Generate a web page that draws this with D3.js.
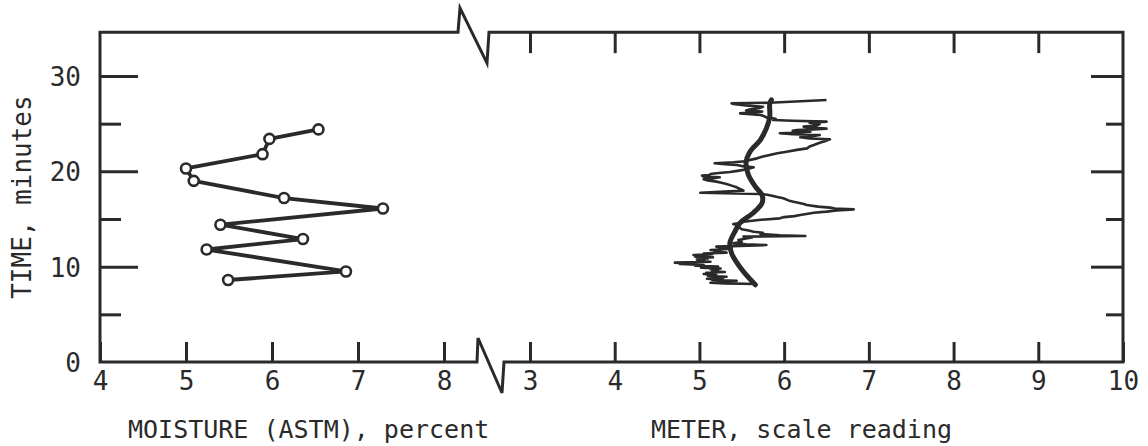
<!DOCTYPE html>
<html>
<head>
<meta charset="utf-8">
<script src="https://cdn.jsdelivr.net/npm/d3@7"></script>
<style>
  body { margin: 0; background: #fff; }
  text { font-family: "DejaVu Sans Mono", "Liberation Mono", monospace; fill: #2a2a2a; }
</style>
</head>
<body>
<div id="chart"></div>
<script>
// ---- data ----
// left panel: moisture (ASTM) percent vs time
const moisture = [6.54, 5.97, 5.89, 5.00, 5.09, 6.14, 7.29, 5.40, 6.36, 5.24, 6.86, 5.49];
const moistureTime = [24.4, 23.4, 21.8, 20.3, 19.0, 17.2, 16.1, 14.4, 12.9, 11.8, 9.5, 8.6];

// right panel: meter recording (raw trace)
const meterRawTime = [8.18, 8.25, 8.32, 8.40, 8.46, 8.53, 8.60, 8.67, 8.74, 8.82, 8.88, 8.95, 9.05, 9.12,
  9.23, 9.30, 9.36, 9.44, 9.52, 9.60, 9.72, 9.80, 9.88, 9.95, 10.0, 10.10, 10.18, 10.28, 10.35, 10.42,
  10.52, 10.60, 10.68, 10.77, 10.85, 10.90, 10.98, 11.05, 11.12, 11.22, 11.30, 11.38, 11.47, 11.55, 11.62,
  11.75, 11.82, 11.92, 12.00, 12.10, 12.27, 12.35, 12.45, 12.60, 12.80, 12.95, 13.05, 13.15, 13.22, 13.30,
  13.43, 13.55, 13.67, 13.80, 13.92, 14.05, 14.20, 14.32, 14.47, 14.60, 14.72, 14.90, 15.07, 15.20, 15.30,
  15.42, 15.55, 15.65, 15.77, 15.90, 16.01, 16.10, 16.19, 16.30, 16.47, 16.60, 16.82, 16.95, 17.17, 17.30,
  17.41, 17.55, 17.62, 17.76, 17.90, 17.97, 18.15, 18.32, 18.50, 18.67, 18.80, 18.92, 19.05, 19.16, 19.25,
  19.37, 19.45, 19.55, 19.62, 19.72, 19.80, 19.93, 20.05, 20.21, 20.42, 20.55, 20.66, 20.75, 20.84, 20.95,
  21.05, 21.20, 21.36, 21.55, 21.71, 21.90, 22.06, 22.25, 22.41, 22.60, 22.76, 23.00, 23.22, 23.36, 23.45,
  23.57, 23.70, 23.81, 23.90, 23.99, 24.08, 24.16, 24.25, 24.34, 24.40, 24.48, 24.58, 24.69, 24.80, 24.97,
  25.10, 25.21, 25.30, 25.38, 25.50, 25.66, 25.80, 25.91, 26.00, 26.08, 26.18, 26.26, 26.38, 26.50, 26.62,
  26.78, 26.90, 27.06, 27.13, 27.20, 27.48];
const meterRaw = [5.66, 5.30, 5.13, 5.35, 5.20, 5.44, 5.15, 5.28, 5.09, 5.25, 5.12, 5.32, 5.10, 5.20,
  5.05, 5.18, 5.08, 5.30, 5.15, 5.22, 5.13, 5.25, 5.02, 5.15, 5.22, 4.95, 5.05, 4.77, 4.85, 4.71,
  5.13, 4.98, 5.05, 4.97, 5.10, 5.00, 5.16, 4.95, 5.05, 4.93, 5.15, 5.05, 5.32, 5.18, 5.25,
  5.13, 5.30, 5.38, 5.25, 5.20, 5.79, 5.55, 5.40, 5.50, 5.46, 5.55, 5.62, 5.52, 6.25, 5.95,
  5.72, 5.75, 5.64, 5.58, 5.50, 5.48, 5.44, 5.46, 5.40, 5.50, 5.52, 5.70, 5.95, 6.00, 6.12,
  6.19, 6.28, 6.35, 6.50, 6.62, 6.82, 6.60, 6.54, 6.40, 6.27, 6.22, 6.11, 6.05, 5.99, 5.92,
  5.87, 5.80, 5.72, 5.01, 5.35, 5.52, 5.48, 5.44, 5.38, 5.32, 5.26, 5.20, 5.10, 5.05, 5.15,
  5.24, 5.05, 5.03, 5.12, 5.13, 5.20, 5.36, 5.45, 5.56, 5.64, 5.50, 5.44, 5.30, 5.18, 5.40,
  5.54, 5.60, 5.68, 5.75, 5.83, 5.92, 6.03, 6.15, 6.27, 6.30, 6.35, 6.42, 6.50, 6.54, 6.30,
  6.19, 6.35, 6.42, 6.10, 5.95, 6.20, 6.31, 6.10, 6.15, 6.35, 6.50, 6.30, 6.23, 6.38, 6.42,
  6.30, 6.50, 6.10, 5.87, 5.90, 5.79, 5.76, 5.72, 5.60, 5.48, 5.62, 5.74, 5.55, 5.60, 5.70,
  5.75, 5.55, 5.40, 5.38, 5.83, 6.50];

// right panel: smoothed curve through the recording
const meterSmooth = [5.66, 5.50, 5.38, 5.36, 5.42, 5.48, 5.63, 5.74, 5.74, 5.66, 5.58, 5.55, 5.60, 5.72, 5.79, 5.83, 5.83, 5.85];
const meterSmoothTime = [8.1, 9.7, 11.4, 12.5, 13.7, 14.6, 15.6, 16.7, 17.5, 18.4, 19.6, 20.9, 22.1, 23.3, 24.5, 25.7, 27.1, 27.5];

// axis ticks
const moistureTicks = [4, 5, 6, 7, 8];
const meterTicks = [3, 4, 5, 6, 7, 8, 9, 10];
const timeTicks = [0, 5, 10, 15, 20, 25, 30];
const timeLabels = [0, 10, 20, 30];

// ---- layout ----
const W = 1148, H = 446;
const ink = "#2a2a2a";

const svg = d3.select("#chart").append("svg")
  .attr("width", W).attr("height", H);
svg.append("rect").attr("width", W).attr("height", H).attr("fill", "#fff");

const xL = d3.scaleLinear().domain([4, 8]).range([100, 444]);
const xR = d3.scaleLinear().domain([3, 10]).range([530, 1123]);
const y = d3.scaleLinear().domain([0, 30]).range([362, 76]);
const yTop = y(34.6);
const yBot = y(0);

// frame with axis breaks
const frame = d3.path();
frame.moveTo(xL(4), yTop);
frame.lineTo(458, yTop);
frame.lineTo(460, yTop - 24);
frame.lineTo(487, yTop + 31);
frame.lineTo(489, yTop);
frame.lineTo(xR(10), yTop);
frame.lineTo(xR(10), yBot);
frame.lineTo(504, yBot);
frame.lineTo(502, yBot + 31);
frame.lineTo(478, yBot - 24);
frame.lineTo(477, yBot);
frame.lineTo(xL(4), yBot);
frame.closePath();
svg.append("path").attr("d", frame.toString())
  .attr("fill", "none").attr("stroke", ink).attr("stroke-width", 3)
  .attr("stroke-linejoin", "miter");

function styleAxis(g) {
  g.select(".domain").remove();
  g.selectAll(".tick line").attr("stroke", ink).attr("stroke-width", 3);
  g.selectAll(".tick text").attr("fill", ink).attr("font-size", 26)
    .attr("font-family", "DejaVu Sans Mono, monospace");
}

const fmt = d3.format("d");

// bottom axes (ticks pointing inward)
svg.append("g").attr("transform", `translate(0,${yBot})`)
  .call(d3.axisBottom(xL).tickValues(moistureTicks).tickSizeInner(-20).tickSizeOuter(0).tickPadding(10).tickFormat(fmt))
  .call(styleAxis);
svg.append("g").attr("transform", `translate(0,${yBot})`)
  .call(d3.axisBottom(xR).tickValues(meterTicks).tickSizeInner(-20).tickSizeOuter(0).tickPadding(10).tickFormat(fmt))
  .call(styleAxis);

// top axis of the meter panel, ticks only
svg.append("g").attr("transform", `translate(0,${yTop})`)
  .call(d3.axisTop(xR).tickValues(meterTicks.slice(0, -1)).tickSizeInner(-21).tickSizeOuter(0).tickFormat(""))
  .call(styleAxis);

// left time axis
const gyL = svg.append("g").attr("transform", `translate(${xL(4)},0)`)
  .call(d3.axisLeft(y).tickValues(timeTicks).tickSizeOuter(0).tickPadding(13)
    .tickFormat(d => timeLabels.includes(d) ? d : ""))
  .call(styleAxis);
gyL.selectAll(".tick line").attr("x2", d => d === 0 ? 0 : (timeLabels.includes(d) ? 38 : 21));
gyL.selectAll(".tick text").attr("dy", "0.36em");

// right time axis
const gyR = svg.append("g").attr("transform", `translate(${xR(10)},0)`)
  .call(d3.axisRight(y).tickValues(timeTicks.slice(1)).tickSizeOuter(0).tickFormat(""))
  .call(styleAxis);
gyR.selectAll(".tick line").attr("x2", d => timeLabels.includes(d) ? -32 : -17);

// ---- left panel: moisture ----
const moistPts = moisture.map((v, i) => [v, moistureTime[i]]);
svg.append("path").datum(moistPts)
  .attr("fill", "none").attr("stroke", ink).attr("stroke-width", 3.8)
  .attr("stroke-linejoin", "round")
  .attr("d", d3.line().x(d => xL(d[0])).y(d => y(d[1])));
svg.selectAll("circle.m").data(moistPts).enter().append("circle")
  .attr("class", "m")
  .attr("cx", d => xL(d[0])).attr("cy", d => y(d[1])).attr("r", 5)
  .attr("fill", "#fff").attr("stroke", ink).attr("stroke-width", 2.6);

// ---- right panel: meter ----
const rawPts = meterRaw.map((v, i) => [v, meterRawTime[i]]);
svg.append("path").datum(rawPts)
  .attr("fill", "none").attr("stroke", ink).attr("stroke-width", 2.6)
  .attr("stroke-linejoin", "round")
  .attr("d", d3.line().x(d => xR(d[0])).y(d => y(d[1])));

const smoothPts = meterSmooth.map((v, i) => [v, meterSmoothTime[i]]);
svg.append("path").datum(smoothPts)
  .attr("fill", "none").attr("stroke", ink).attr("stroke-width", 5)
  .attr("stroke-linecap", "round")
  .attr("d", d3.line().curve(d3.curveCatmullRom).x(d => xR(d[0])).y(d => y(d[1])));

// ---- axis titles ----
svg.append("text")
  .attr("transform", `translate(31,${y(17.3)}) rotate(-90)`)
  .attr("text-anchor", "middle").attr("font-size", 26)
  .text("TIME, minutes");
svg.append("text").attr("x", 128).attr("y", 438).attr("font-size", 25)
  .text("MOISTURE (ASTM), percent");
svg.append("text").attr("x", 651).attr("y", 438).attr("font-size", 25)
  .text("METER, scale reading");
</script>
</body>
</html>
